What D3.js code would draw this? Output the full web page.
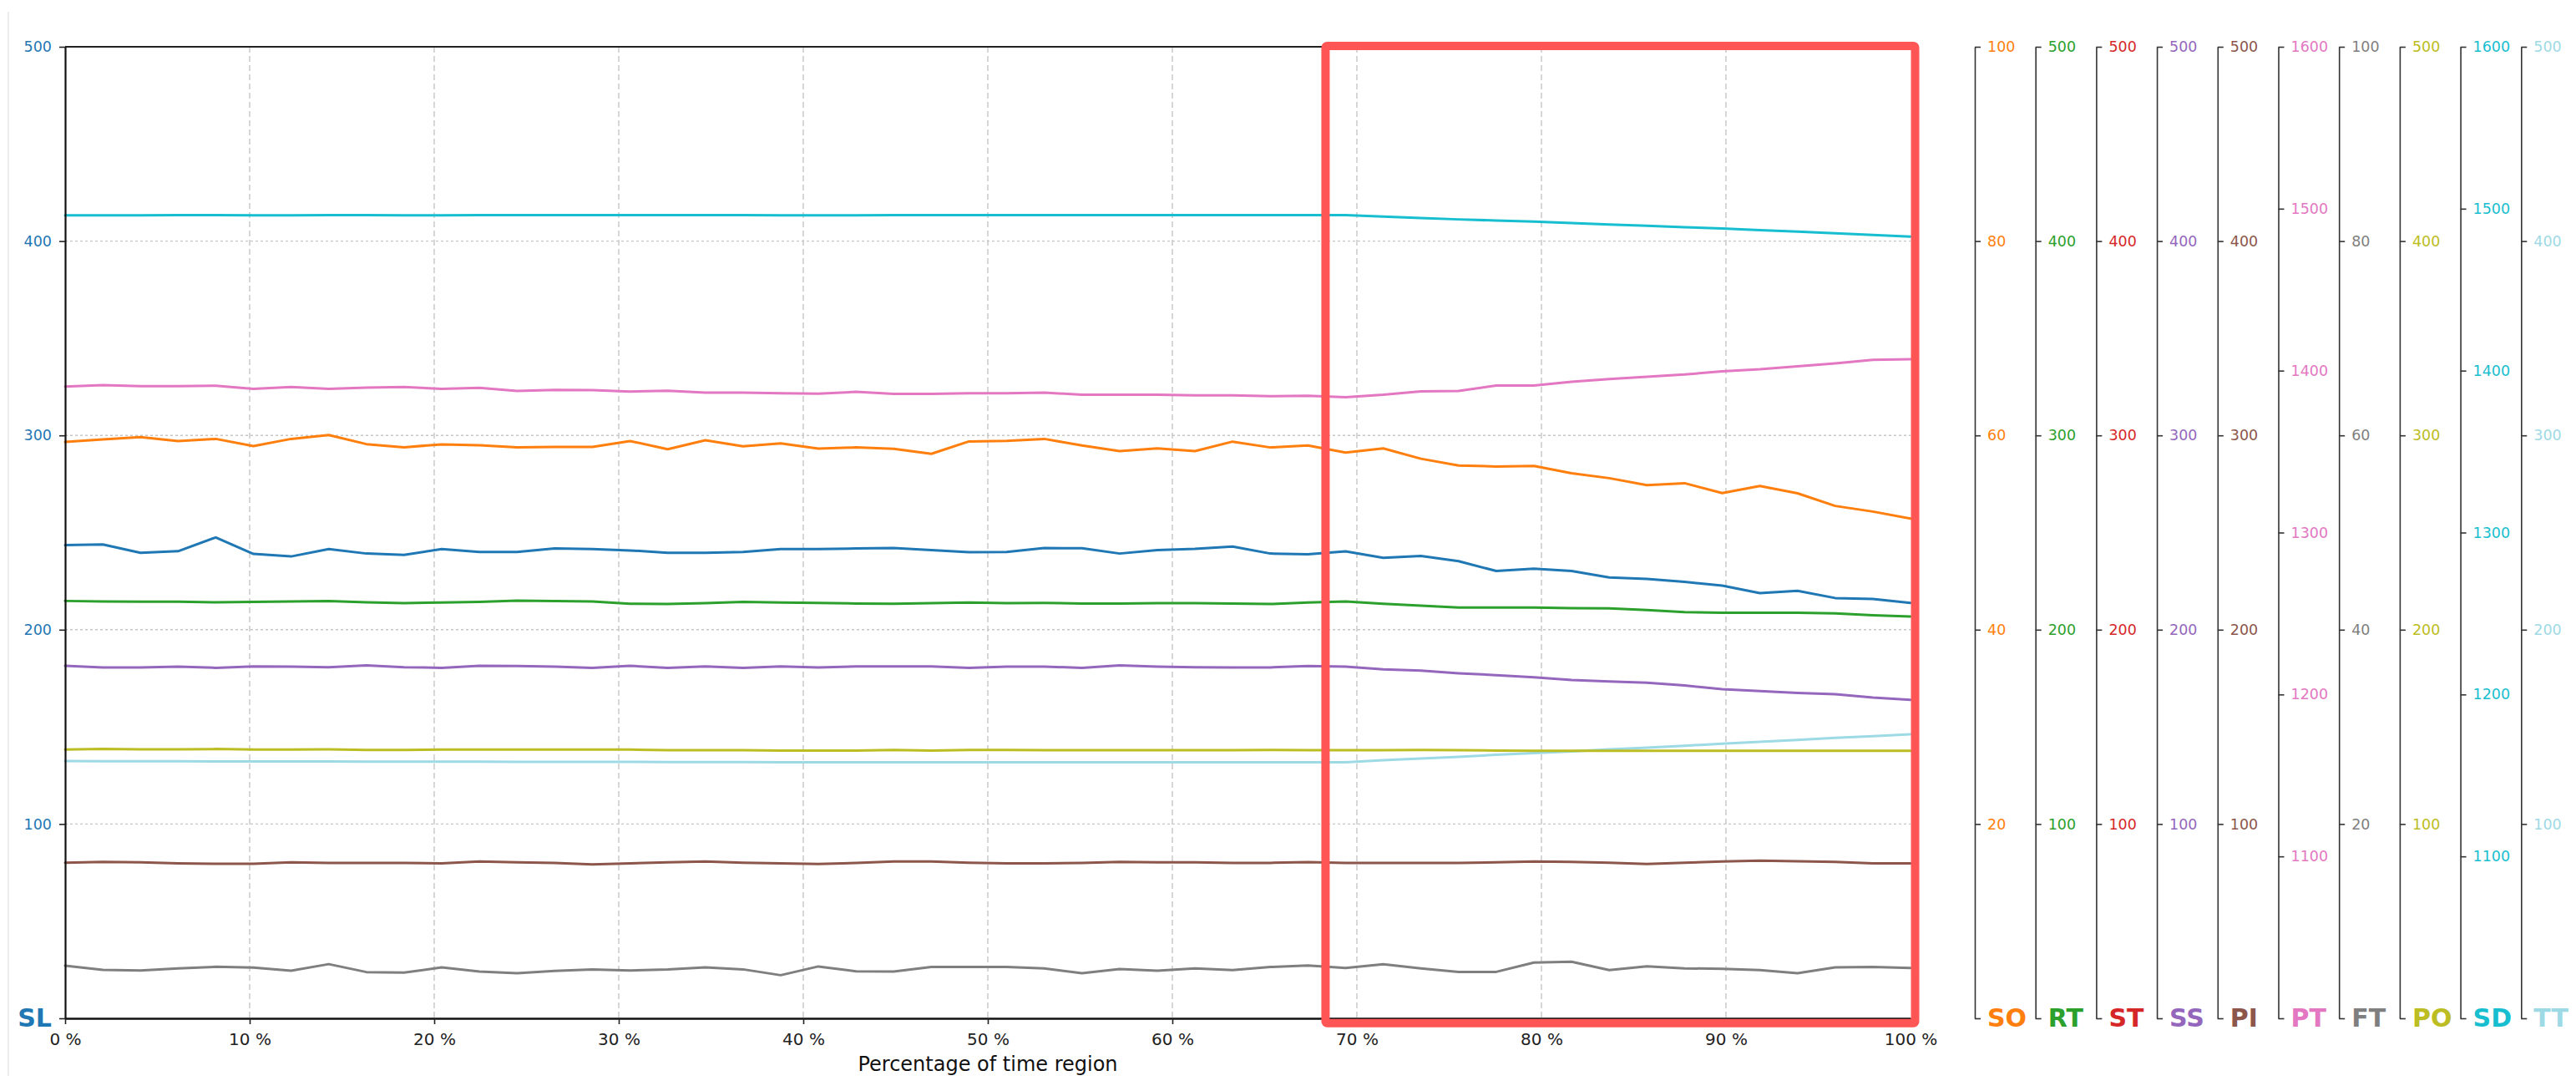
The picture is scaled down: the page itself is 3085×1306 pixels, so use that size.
<!DOCTYPE html>
<html><head><meta charset="utf-8">
<script src="https://cdn.jsdelivr.net/npm/d3@7"></script>
<style>
body{margin:0;background:#fff}
svg{display:block}
text{font-family:"DejaVu Sans",sans-serif}
</style>
</head><body>
<svg id="chart" width="3085" height="1306"></svg>
<script>
// ---------- data (50 samples over the time region) ----------
const xTicks = [0,10,20,30,40,50,60,70,80,90,100];
const slTicks = [0,100,200,300,400,500];

const SL = [243.6,243.9,239.6,240.4,247.5,239.0,237.7,241.5,239.2,238.5,241.5,240.0,240.0,241.8,241.5,240.8,239.6,239.6,240.0,241.5,241.5,241.8,242.0,241.0,239.9,240.0,242.0,241.9,239.2,241.0,241.6,242.8,239.2,238.8,240.3,237.0,238.0,235.3,230.2,231.4,230.2,226.9,226.1,224.6,222.7,218.8,220.0,216.3,215.8,213.8];
const SO = [59.32,59.58,59.82,59.42,59.64,58.90,59.64,60.04,59.10,58.78,59.08,58.98,58.76,58.82,58.82,59.42,58.58,59.50,58.88,59.18,58.64,58.76,58.62,58.10,59.38,59.44,59.64,58.96,58.38,58.66,58.38,59.36,58.76,58.96,58.24,58.66,57.60,56.90,56.80,56.86,56.10,55.60,54.88,55.08,54.06,54.80,54.04,52.74,52.16,51.44];
const RT = [214.8,214.5,214.4,214.4,214.1,214.3,214.5,214.7,214.1,213.7,214.0,214.3,215.0,214.7,214.5,213.4,213.2,213.7,214.3,214.0,213.8,213.5,213.4,213.7,214.0,213.7,213.8,213.5,213.5,213.7,213.7,213.5,213.2,214.0,214.5,213.4,212.4,211.4,211.4,211.4,211.1,211.0,210.1,209.1,208.7,208.7,208.7,208.4,207.4,206.8];
const ST = null; // no visible ST line in the chart
const SS = [181.4,180.6,180.6,181.0,180.4,181.1,181.0,180.7,181.6,180.7,180.4,181.4,181.3,181.0,180.4,181.4,180.4,181.1,180.4,181.1,180.6,181.1,181.1,181.1,180.4,181.0,181.0,180.4,181.6,181.0,180.7,180.6,180.6,181.3,181.0,179.6,179.0,177.6,176.6,175.5,174.1,173.4,172.7,171.3,169.4,168.4,167.5,166.8,165.1,163.9];
const PI = [80.1,80.5,80.3,79.8,79.5,79.5,80.3,80.0,80.0,80.0,79.8,80.7,80.3,80.0,79.2,79.8,80.3,80.7,80.1,79.7,79.4,80.0,80.7,80.7,80.1,79.8,79.7,80.0,80.5,80.3,80.3,80.0,80.0,80.4,80.0,80.0,80.0,80.0,80.3,80.7,80.5,80.1,79.4,80.1,80.7,81.1,80.8,80.5,79.8,79.8];
const PT = [1390.2,1391.1,1390.4,1390.4,1390.7,1388.7,1389.9,1388.7,1389.5,1389.9,1388.7,1389.4,1387.5,1388.1,1388.0,1387.1,1387.6,1386.4,1386.4,1386.0,1385.8,1386.9,1385.6,1385.6,1386.0,1386.0,1386.4,1385.1,1385.1,1385.1,1384.8,1384.8,1384.2,1384.5,1383.6,1385.1,1387.2,1387.4,1390.8,1390.8,1393.1,1394.8,1396.2,1397.6,1399.6,1400.8,1402.7,1404.5,1406.7,1407.0];
const FT = [5.42,4.98,4.92,5.14,5.30,5.22,4.90,5.58,4.76,4.70,5.24,4.82,4.64,4.88,5.04,4.92,5.02,5.24,5.04,4.44,5.34,4.84,4.82,5.28,5.28,5.28,5.14,4.64,5.08,4.90,5.14,4.96,5.28,5.44,5.18,5.56,5.14,4.78,4.78,5.74,5.82,4.96,5.36,5.14,5.10,4.96,4.64,5.24,5.28,5.18];
const PO = [138.3,138.6,138.4,138.4,138.6,138.3,138.3,138.4,138.1,138.1,138.3,138.3,138.3,138.3,138.3,138.3,138.0,138.0,138.0,137.8,137.8,137.8,138.1,137.8,138.1,138.1,138.0,138.0,138.0,138.0,138.0,138.0,138.1,138.0,138.0,138.0,138.1,138.0,137.8,137.7,137.7,137.7,137.7,137.7,137.7,137.7,137.7,137.7,137.7,137.7];
const SD = [1495.9,1495.9,1495.9,1496.0,1496.0,1495.9,1495.9,1496.0,1496.0,1495.9,1495.9,1496.0,1496.0,1496.0,1496.0,1496.0,1496.0,1496.0,1496.0,1495.9,1495.9,1495.9,1496.0,1496.0,1496.1,1496.0,1496.0,1496.0,1496.0,1496.0,1496.0,1496.0,1496.0,1496.1,1496.1,1495.1,1494.3,1493.4,1492.7,1492.0,1491.2,1490.3,1489.5,1488.6,1487.8,1486.7,1485.8,1484.8,1483.8,1482.8];
const TT = [132.4,132.3,132.3,132.3,132.2,132.2,132.2,132.2,132.1,132.1,132.1,132.1,132.0,132.0,132.0,132.0,131.9,131.9,131.9,131.8,131.8,131.8,131.8,131.8,131.8,131.8,131.8,131.8,131.8,131.8,131.8,131.8,131.8,131.8,131.8,132.8,133.7,134.6,135.6,136.5,137.4,138.4,139.3,140.3,141.3,142.3,143.3,144.3,145.2,146.2];

const pct = d3.range(SL.length).map(i => i * 100 / (SL.length - 1));

const rightAxes = [
  {name:"SO", color:"#ff7f0e", domain:[0,100],     ticks:[0,20,40,60,80,100],              data:SO},
  {name:"RT", color:"#2ca02c", domain:[0,500],     ticks:[0,100,200,300,400,500],          data:RT},
  {name:"ST", color:"#d62728", domain:[0,500],     ticks:[0,100,200,300,400,500],          data:ST},
  {name:"SS", color:"#9467bd", domain:[0,500],     ticks:[0,100,200,300,400,500],          data:SS},
  {name:"PI", color:"#8c564b", domain:[0,500],     ticks:[0,100,200,300,400,500],          data:PI},
  {name:"PT", color:"#e377c2", domain:[1000,1600], ticks:[1000,1100,1200,1300,1400,1500,1600], data:PT},
  {name:"FT", color:"#7f7f7f", domain:[0,100],     ticks:[0,20,40,60,80,100],              data:FT},
  {name:"PO", color:"#bcbd22", domain:[0,500],     ticks:[0,100,200,300,400,500],          data:PO},
  {name:"SD", color:"#17becf", domain:[1000,1600], ticks:[1000,1100,1200,1300,1400,1500,1600], data:SD},
  {name:"TT", color:"#9edae5", domain:[0,500],     ticks:[0,100,200,300,400,500],          data:TT}
];
const slColor = "#1f77b4";
const highlight = {x0:68.3, x1:100.25, y0:-2.5, y1:500.4};

// ---------- layout ----------
const svg = d3.select("#chart");
const m = {left:78, right:2288, top:56, bottom:1219};
const axis0 = 2365, axisGap = 72.7;

const x = d3.scaleLinear().domain([0,100]).range([m.left, m.right]);
const ySL = d3.scaleLinear().domain([0,500]).range([m.bottom, m.top]);

// faint figure border at left
svg.append("line").attr("x1",10).attr("x2",10).attr("y1",14).attr("y2",1288)
   .attr("stroke","#ececec").attr("stroke-width",2);

// grid
const grid = svg.append("g");
grid.selectAll(".vg").data(xTicks.filter(t => t>0 && t<100)).join("line")
  .attr("x1",d=>x(d)).attr("x2",d=>x(d)).attr("y1",m.top).attr("y2",m.bottom)
  .attr("stroke","#c6c6c6").attr("stroke-width",1.4).attr("stroke-dasharray","7,4");
grid.selectAll(".hg").data(slTicks.filter(t => t>0 && t<500)).join("line")
  .attr("x1",m.left).attr("x2",m.right).attr("y1",d=>ySL(d)).attr("y2",d=>ySL(d))
  .attr("stroke","#c6c6c6").attr("stroke-width",1.4).attr("stroke-dasharray","3,3");

// series lines
const lines = svg.append("g").attr("fill","none").attr("stroke-width",3)
  .attr("stroke-linejoin","round").attr("stroke-linecap","round");
function drawLine(data, scale, color){
  const gen = d3.line().x((d,i)=>x(pct[i])).y(d=>scale(d));
  lines.append("path").datum(data).attr("d",gen).attr("stroke",color);
}
rightAxes.forEach((a,k) => {
  a.scale = d3.scaleLinear().domain(a.domain).range([m.bottom, m.top]);
  a.pos = axis0 + k*axisGap;
});
["FT","PI","TT","PO","SS","RT"].forEach(n => { const a = rightAxes.find(r=>r.name===n); if(a.data) drawLine(a.data,a.scale,a.color); });
drawLine(SL, ySL, slColor);
["SO","PT","SD"].forEach(n => { const a = rightAxes.find(r=>r.name===n); if(a.data) drawLine(a.data,a.scale,a.color); });

// x axis
const xAxis = svg.append("g").attr("transform",`translate(0,${m.bottom})`)
  .call(d3.axisBottom(x).tickValues(xTicks).tickFormat(d=>d+" %").tickSize(7).tickSizeOuter(0).tickPadding(11));
xAxis.select(".domain").attr("stroke","#111").attr("stroke-width",2.4);
xAxis.selectAll(".tick line").attr("stroke","#222").attr("stroke-width",1.6);
xAxis.selectAll(".tick text").attr("fill","#222").style("font-size","20px").style("font-family","DejaVu Sans");

// top spine
svg.append("line").attr("x1",m.left).attr("x2",m.right).attr("y1",m.top).attr("y2",m.top)
   .attr("stroke","#222").attr("stroke-width",2.2);

// left SL axis
const yAxis = svg.append("g").attr("transform",`translate(${m.left},0)`)
  .call(d3.axisLeft(ySL).tickValues(slTicks).tickSize(7).tickSizeOuter(0).tickPadding(9));
yAxis.select(".domain").attr("stroke","#111").attr("stroke-width",2.2);
yAxis.selectAll(".tick line").attr("stroke","#222").attr("stroke-width",1.6);
yAxis.selectAll(".tick text").attr("fill",slColor).style("font-size","17.5px").style("font-family","DejaVu Sans")
  .each(function(d){ if(d===0){ d3.select(this).text("SL").style("font-size","30px").style("font-weight","bold"); } });

// right axes
rightAxes.forEach(a => {
  const g = svg.append("g").attr("transform",`translate(${a.pos},0)`)
    .call(d3.axisRight(a.scale).tickValues(a.ticks).tickSize(7).tickSizeOuter(0).tickPadding(8).tickFormat(d3.format("d")));
  g.select(".domain").attr("stroke","#333").attr("stroke-width",1.6);
  g.selectAll(".tick line").attr("stroke","#333").attr("stroke-width",1.6);
  g.selectAll(".tick text").attr("fill",a.color).style("font-size","17.5px").style("font-family","DejaVu Sans")
    .each(function(d){ if(d===a.domain[0]){ d3.select(this).text(a.name).style("font-size","30px").style("font-weight","bold"); } });
});

// x axis label
svg.append("text").attr("x",(m.left+m.right)/2).attr("y",1282).attr("text-anchor","middle")
  .attr("fill","#111").style("font-size","24px").text("Percentage of time region");

// highlight box
svg.append("rect")
  .attr("x",x(highlight.x0)).attr("y",ySL(highlight.y1))
  .attr("width",x(highlight.x1)-x(highlight.x0)).attr("height",ySL(highlight.y0)-ySL(highlight.y1))
  .attr("fill","none").attr("stroke","#ff5555").attr("stroke-width",10).attr("stroke-linejoin","round").attr("rx",2);
</script>
</body></html>
